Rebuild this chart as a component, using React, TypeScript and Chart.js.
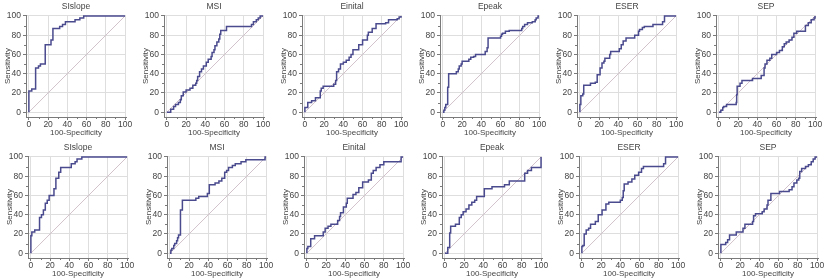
import React, { useEffect, useRef } from "react";
import { Chart, registerables } from "chart.js";

Chart.register(...registerables);

// ---- tick labels / titles ----
const axisTicks = [0, 20, 40, 60, 80, 100];
const minorTicks = [10, 30, 50, 70, 90];
const xAxisTitle = "100-Specificity";
const yAxisTitle = "Sensitivity";
const topTitles = ["SIslope", "MSI", "Einital", "Epeak", "ESER", "SEP"];
const bottomTitles = ["SIslope", "MSI", "Einital", "Epeak", "ESER", "SEP"];

// ---- top row ROC curves (x = 100-Specificity, y = Sensitivity) ----
const topSlopeX = [0, 0, 3, 7, 10, 12, 17, 23, 25, 32, 35, 38, 48, 53, 57, 100];
const topSlopeY = [0, 22, 24, 46, 48, 50, 70, 75, 87, 89, 91, 94, 96, 98, 100, 100];

const topMsiX = [0, 4, 7, 9, 12, 14, 15, 17, 20, 24, 27, 30, 31, 32, 34, 36, 38, 41, 43, 46, 47, 49, 50, 52, 54, 55, 56, 62, 88, 90, 93, 95, 97, 100];
const topMsiY = [0, 3, 6, 8, 10, 13, 17, 21, 23, 25, 28, 30, 33, 37, 42, 45, 48, 52, 55, 58, 62, 65, 69, 73, 76, 81, 85, 89, 91, 94, 96, 98, 100, 100];

const topEinitX = [0, 0, 3, 7, 11, 16, 17, 19, 30, 32, 33, 35, 37, 40, 43, 46, 48, 50, 56, 60, 65, 66, 70, 74, 84, 87, 96, 98, 100];
const topEinitY = [0, 5, 10, 12, 15, 22, 25, 27, 29, 33, 42, 45, 50, 52, 54, 57, 60, 65, 70, 75, 80, 83, 87, 92, 93, 96, 97, 99, 100];

const topEpeakX = [0, 1, 2, 3, 5, 6, 14, 16, 17, 19, 20, 27, 29, 32, 34, 44, 46, 47, 60, 61, 62, 65, 69, 82, 83, 85, 88, 93, 96, 97, 99, 100];
const topEpeakY = [0, 2, 5, 8, 26, 40, 42, 45, 48, 50, 53, 55, 57, 58, 60, 63, 67, 77, 79, 81, 82, 84, 85, 87, 89, 91, 93, 94, 96, 98, 100, 100];

const topEserX = [0, 0, 1, 3, 4, 11, 16, 18, 21, 23, 25, 26, 31, 32, 41, 43, 45, 48, 57, 61, 62, 65, 67, 76, 86, 88, 100];
const topEserY = [0, 8, 17, 19, 28, 30, 31, 39, 46, 51, 53, 56, 60, 63, 66, 70, 74, 77, 80, 84, 86, 88, 89, 91, 94, 100, 100];

const topSepX = [0, 2, 4, 5, 8, 18, 18.5, 19, 22, 24, 35, 44, 47, 48, 50, 53, 55, 60, 63, 66, 68, 70, 73, 76, 78, 81, 90, 93, 96, 99, 100];
const topSepY = [0, 2, 5, 6, 8, 10, 18, 27, 30, 33, 35, 38, 46, 50, 54, 56, 60, 62, 64, 68, 71, 73, 75, 78, 82, 84, 90, 93, 96, 98, 100];

// ---- bottom row ROC curves ----
const botSlopeX = [0, 0, 1, 4, 9, 11, 13, 15, 17, 19, 24, 26, 29, 31, 42, 46, 48, 53, 100];
const botSlopeY = [0, 18, 22, 24, 37, 40, 45, 52, 55, 60, 67, 78, 84, 89, 93, 95, 98, 100, 100];

const botMsiX = [0, 1, 2, 4, 5, 7, 8, 9, 11, 13, 27, 30, 39, 41, 47, 51, 54, 57, 59, 61, 65, 68, 74, 79, 99, 100];
const botMsiY = [0, 3, 5, 8, 10, 13, 16, 19, 45, 55, 57, 59, 62, 71, 73, 75, 78, 84, 86, 89, 91, 93, 95, 97, 100, 100];

const botEinitX = [0, 0, 1, 4, 8, 17, 19, 22, 25, 32, 34, 35, 38, 41, 42, 48, 51, 54, 58, 64, 67, 69, 72, 76, 80, 98, 100];
const botEinitY = [0, 5, 7, 15, 18, 22, 26, 28, 30, 34, 38, 42, 48, 52, 57, 61, 63, 68, 74, 76, 83, 86, 89, 92, 95, 100, 100];

const botEpeakX = [0, 3, 5, 6, 11, 15, 17, 19, 22, 25, 28, 31, 33, 41, 49, 62, 67, 83, 86, 90, 100];
const botEpeakY = [0, 6, 21, 28, 30, 37, 40, 43, 46, 50, 53, 55, 59, 67, 69, 71, 75, 83, 86, 89, 100];

const botEserX = [0, 0, 1, 2.4, 4.5, 7, 9, 14, 17, 21, 25, 28, 40, 42, 43, 44, 48, 52, 55, 59, 62, 64, 85, 87, 100];
const botEserY = [0, 7, 8, 20, 24, 26, 30, 33, 40, 45, 51, 53, 55, 58, 65, 72, 74, 77, 81, 84, 88, 90, 93, 100, 100];

const botSepX = [0, 0, 5, 7, 9, 16, 23, 25, 33, 34, 36, 43, 45, 48, 49, 52, 61, 71, 74, 76, 79, 81, 82, 84, 88, 91, 94, 96, 98, 100];
const botSepY = [0, 9, 11, 14, 19, 22, 26, 30, 33, 39, 41, 43, 46, 50, 55, 62, 64, 66, 69, 73, 76, 78, 85, 88, 90, 92, 95, 98, 100, 100];

const diagX = [0, 100];
const diagY = [0, 100];

// ---- style / layout ----
const FONT = "'Liberation Sans', Arial, sans-serif";
const TEXT = "#444444";
const CURVE = "#4a4a8e";
const DIAG = "#d2c2cb";
const GRID = "#dedede";
const AXIS = "#7a7a7a";

const topZeroX = [29, 167, 305, 443, 580, 719];
const botZeroX = [31, 170, 307, 445, 582, 721];
const CANVAS_W = 138;
const CANVAS_H = 140;

const minorTickPlugin = {
  id: "minorTicks",
  afterDraw(chart: any) {
    const { ctx, chartArea, scales } = chart;
    ctx.save();
    ctx.strokeStyle = AXIS;
    ctx.lineWidth = 1;
    ctx.beginPath();
    for (const v of minorTicks) {
      const px = Math.round(scales.x.getPixelForValue(v)) + 0.5;
      ctx.moveTo(px, chartArea.bottom);
      ctx.lineTo(px, chartArea.bottom + 2);
      const py = Math.round(scales.y.getPixelForValue(v)) + 0.5;
      ctx.moveTo(chartArea.left, py);
      ctx.lineTo(chartArea.left - 2, py);
    }
    ctx.stroke();
    ctx.restore();
  },
};

type PanelProps = { title: string; xs: number[]; ys: number[]; left: number; top: number };

function RocPanel({ title, xs, ys, left, top }: PanelProps) {
  const ref = useRef<HTMLCanvasElement | null>(null);
  useEffect(() => {
    if (!ref.current) return;
    const tickFont = { family: FONT, size: 8.5 };
    const chart = new Chart(ref.current, {
      type: "line",
      data: {
        datasets: [
          {
            data: xs.map((x, i) => ({ x, y: ys[i] })),
            stepped: "before",
            borderColor: CURVE,
            borderWidth: 1.5,
            pointRadius: 0,
            fill: false,
          },
          {
            data: diagX.map((x, i) => ({ x, y: diagY[i] })),
            borderColor: DIAG,
            borderWidth: 1,
            pointRadius: 0,
            fill: false,
          },
        ],
      },
      options: {
        animation: false,
        responsive: false,
        maintainAspectRatio: false,
        events: [],
        layout: { padding: { left: 0, right: CANVAS_W - 127, top: 0, bottom: 0 } },
        plugins: {
          legend: { display: false },
          tooltip: { enabled: false },
          title: {
            display: true,
            fullSize: false,
            text: title,
            color: TEXT,
            font: { family: FONT, size: 8.5, lineHeight: "11px", weight: "normal" },
            padding: { top: 1, bottom: 3 },
          },
        },
        scales: {
          x: {
            type: "linear",
            min: -3,
            max: 101,
            afterBuildTicks: (s: any) => {
              s.ticks = axisTicks.map((v) => ({ value: v }));
            },
            afterFit: (s: any) => {
              s.height = 23;
            },
            grid: { color: GRID, tickColor: AXIS, tickLength: 3, lineWidth: 1 },
            border: { display: true, color: AXIS, width: 1 },
            ticks: { color: TEXT, font: tickFont, padding: 0, maxRotation: 0, autoSkip: false },
            title: {
              display: true,
              text: xAxisTitle,
              color: TEXT,
              font: { family: FONT, size: 8 },
              padding: { top: 0, bottom: 2 },
            },
          },
          y: {
            type: "linear",
            min: -5,
            max: 101,
            afterBuildTicks: (s: any) => {
              s.ticks = axisTicks.map((v) => ({ value: v }));
            },
            afterFit: (s: any) => {
              s.width = 27;
            },
            grid: { color: GRID, tickColor: AXIS, tickLength: 3, lineWidth: 1 },
            border: { display: true, color: AXIS, width: 1 },
            ticks: { color: TEXT, font: tickFont, padding: 2, autoSkip: false },
            title: {
              display: true,
              text: yAxisTitle,
              color: TEXT,
              font: { family: FONT, size: 8 },
              padding: { top: 4, bottom: 0 },
            },
          },
        },
      },
      plugins: [minorTickPlugin],
    } as any);
    return () => chart.destroy();
  }, [title, xs, ys]);
  return (
    <canvas
      ref={ref}
      width={CANVAS_W}
      height={CANVAS_H}
      style={{ position: "absolute", left, top, width: CANVAS_W, height: CANVAS_H }}
    />
  );
}

const topSeries = [
  [topSlopeX, topSlopeY],
  [topMsiX, topMsiY],
  [topEinitX, topEinitY],
  [topEpeakX, topEpeakY],
  [topEserX, topEserY],
  [topSepX, topSepY],
];
const botSeries = [
  [botSlopeX, botSlopeY],
  [botMsiX, botMsiY],
  [botEinitX, botEinitY],
  [botEpeakX, botEpeakY],
  [botEserX, botEserY],
  [botSepX, botSepY],
];

export default function App() {
  return (
    <div
      style={{
        position: "absolute",
        left: 0,
        top: 0,
        width: 826,
        height: 280,
        overflow: "hidden",
        background: "#ffffff",
      }}
    >
      {topSeries.map(([xs, ys], i) => (
        <RocPanel key={"t" + i} title={topTitles[i]} xs={xs} ys={ys} left={topZeroX[i] - 30} top={0} />
      ))}
      {botSeries.map(([xs, ys], i) => (
        <RocPanel key={"b" + i} title={bottomTitles[i]} xs={xs} ys={ys} left={botZeroX[i] - 30} top={141} />
      ))}
    </div>
  );
}
